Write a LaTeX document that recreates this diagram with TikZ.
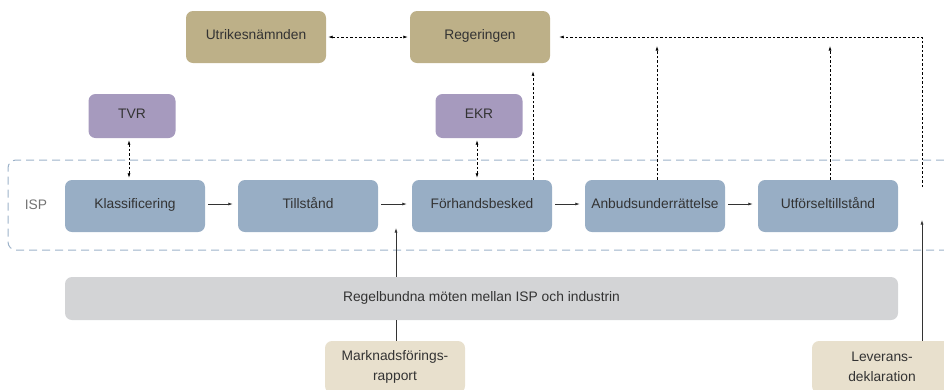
\documentclass[tikz,border=0pt]{standalone}
\usepackage{fontspec}
\setmainfont{Liberation Sans}
\usetikzlibrary{arrows.meta}

\definecolor{govtan}{HTML}{BDB088}
\definecolor{agviolet}{HTML}{A69ABE}
\definecolor{ispblue}{HTML}{98AEC5}
\definecolor{meetgray}{HTML}{D3D4D6}
\definecolor{docbeige}{HTML}{E8E0CD}
\definecolor{frameblue}{HTML}{9CB2C9}
\definecolor{txtgray}{HTML}{333333}

\tikzset{
	blk/.style={rounded corners=7pt, inner sep=0pt, text=txtgray, align=center, font=\fontsize{13.8}{20}\selectfont},
	oneline/.style={text height=0.72em, text depth=0.22em},
	govbox/.style={blk, oneline, fill=govtan, minimum width=140pt, minimum height=52pt},
	agbox/.style={blk, oneline, fill=agviolet, minimum width=87pt, minimum height=44pt},
	ispbox/.style={blk, oneline, fill=ispblue, minimum width=140pt, minimum height=52pt},
	docbox/.style={blk, fill=docbeige, minimum width=140pt, minimum height=52pt},
	meetbar/.style={blk, oneline, fill=meetgray, minimum width=833pt, minimum height=43pt},
	arr/.style={-{Latex[length=4.5pt,width=3pt]}},
	dblarr/.style={{Latex[length=4.5pt,width=3pt]}-{Latex[length=4.5pt,width=3pt]}},
	dashconn/.style={line width=0.7pt, dash pattern=on 2.5pt off 2pt},
	solidconn/.style={line width=0.7pt, draw=black!80},
	ispframe/.style={draw=frameblue, line width=1pt, dash pattern=on 8pt off 5pt, rounded corners=8pt}
}

\begin{document}
\begin{tikzpicture}[x=1pt,y=-1pt]
	\useasboundingbox (0,0) rectangle (944,389);
	\draw[ispframe] (944,160) -- (8,160) -- (8,250) -- (944,250);
	\node[oneline, text=black!55, font=\fontsize{13.8}{16}\selectfont] (isplbl) at (36,207) {ISP};

	\node[govbox] (utr) at (256,37) {Utrikesnämnden};
	\node[govbox] (reg) at (480,37) {Regeringen};
	\node[agbox] (tvr) at (132,116) {TVR};
	\node[agbox] (ekr) at (479,116) {EKR};

	\node[ispbox] (klass) at (135,206) {Klassificering};
	\node[ispbox] (till) at (308,206) {Tillstånd};
	\node[ispbox] (forh) at (482,206) {Förhandsbesked};
	\node[ispbox] (anbud) at (655,206) {Anbudsunderrättelse};
	\node[ispbox] (utf) at (828,206) {Utförseltillstånd};

	\node[meetbar] (meet) at (481.5,298.5) {Regelbundna möten mellan ISP och industrin};
	\node[docbox] (mark) at (395,367) {Marknadsförings-\\rapport};
	\node[docbox] (lev) at (882,367) {Leverans-\\deklaration};

	\coordinate (anbtop) at (657,46);
	\coordinate (utftop) at (830,46);
	\coordinate (levcorner) at (922,37);
	\coordinate (levgap) at (922,187);
	\coordinate (levtip) at (922,220);
	\coordinate (marktip) at (396,228);

	\draw[dashconn, dblarr, shorten <=2pt, shorten >=2pt] (utr.east) -- (reg.west);
	\draw[dashconn, dblarr, shorten <=2pt, shorten >=2pt] ([xshift=-3pt]tvr.south) -- ([xshift=-3pt]tvr.south |- klass.north);
	\draw[dashconn, dblarr, shorten <=2pt, shorten >=2pt] ([xshift=-2pt]ekr.south) -- ([xshift=-2pt]ekr.south |- forh.north);
	\draw[dashconn, arr, shorten >=8pt] ([xshift=51pt]forh.north) -- ([xshift=51pt]forh.north |- reg.south);
	\draw[dashconn, arr] ([xshift=2pt]anbud.north) -- (anbtop);
	\draw[dashconn, arr] ([xshift=2pt]utf.north) -- (utftop);
	\draw[dashconn, arr, shorten >=9pt] (levgap) -- (levcorner) -- (reg.east);

	\draw[solidconn, arr, shorten <=3pt, shorten >=5pt] ([yshift=2pt]klass.east) -- ([yshift=2pt]till.west);
	\draw[solidconn, arr, shorten <=3pt, shorten >=5pt] ([yshift=2pt]till.east) -- ([yshift=2pt]forh.west);
	\draw[solidconn, arr, shorten <=3pt, shorten >=5pt] ([yshift=2pt]forh.east) -- ([yshift=2pt]anbud.west);
	\draw[solidconn, arr, shorten <=3pt, shorten >=5pt] ([yshift=2pt]anbud.east) -- ([yshift=2pt]utf.west);

	\draw[solidconn] ([xshift=1pt]mark.north) -- ([xshift=1pt]mark.north |- meet.south);
	\draw[solidconn, arr] ([xshift=1pt]mark.north |- meet.north) -- (marktip);
	\draw[solidconn, arr] ([xshift=40pt]lev.north) -- (levtip);
\end{tikzpicture}
\end{document}
